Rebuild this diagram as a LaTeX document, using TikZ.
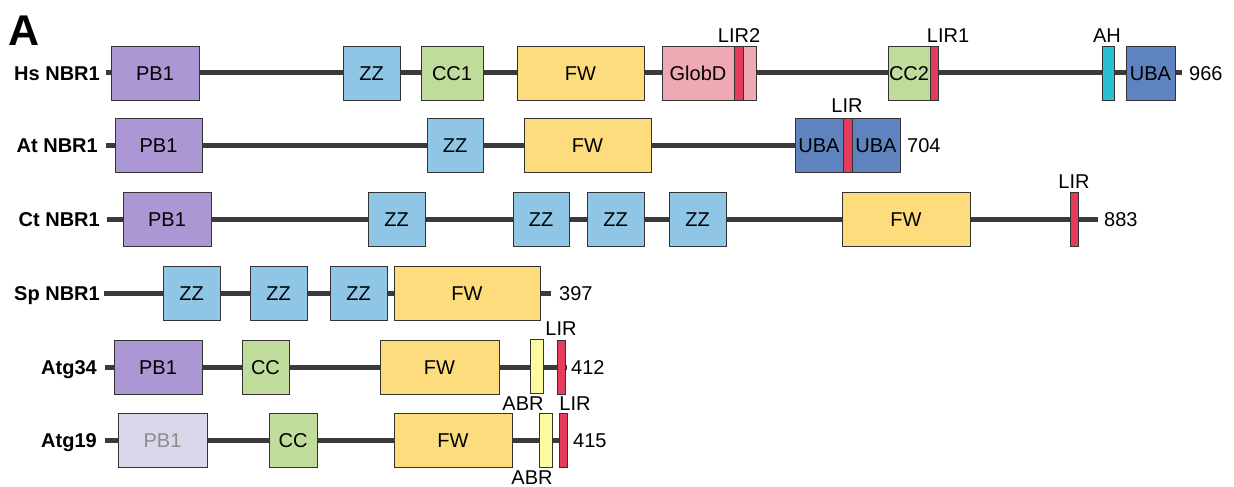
\documentclass[tikz,border=0pt]{standalone}
\usepackage{fontspec}
\setmainfont{Liberation Sans}
\usepackage{xcolor}
\usetikzlibrary{positioning}

\definecolor{pbcol}{HTML}{AB97D4}
\definecolor{pblight}{HTML}{DCD6EA}
\definecolor{zzcol}{HTML}{8FC5E5}
\definecolor{cccol}{HTML}{BFDC9B}
\definecolor{fwcol}{HTML}{FDDC7D}
\definecolor{globcol}{HTML}{EEA9B4}
\definecolor{lircol}{HTML}{E43C5C}
\definecolor{ahcol}{HTML}{2BBFD0}
\definecolor{ubacol}{HTML}{5F83BF}
\definecolor{abrcol}{HTML}{FDFBA0}
\definecolor{linecol}{HTML}{3A3A3A}
\definecolor{edgecol}{HTML}{333333}

\begin{document}
\begin{tikzpicture}[
    x=1pt, y=-1pt,
    font=\fontsize{20}{24}\selectfont,
    dom/.style={draw=edgecol, line width=0.9pt, inner sep=0pt, outer sep=0pt,
        minimum height=54, text height=14.3pt, text depth=0pt},
    bb/.style={draw=linecol, line width=5pt},
    prot/.style={anchor=east, inner sep=0pt, font=\fontsize{20}{24}\selectfont\bfseries,
        text height=14.3pt, text depth=0pt},
    len/.style={anchor=west, inner sep=0pt, text height=14.3pt, text depth=0pt},
    tag/.style={inner sep=0pt, text height=14.3pt, text depth=0pt},
]
    \useasboundingbox (0,0) rectangle (1234,487);
    \node[anchor=base west, inner sep=0pt, font=\fontsize{43}{46}\selectfont\bfseries] (panel) at (8,46) {A};

    % Hs NBR1
    \node[prot] (hsName) at (100,73) {Hs NBR1};
    \coordinate (hsS) at (106,73);
    \coordinate (hsE) at (1182,73);
    \draw[bb] (hsS) -- (hsE);
    \node[dom, fill=pbcol, minimum width=88] (hsPB) at (155,73) {PB1};
    \node[dom, fill=zzcol, minimum width=57] (hsZZ) at (371.5,73) {ZZ};
    \node[dom, fill=cccol, minimum width=62] (hsCC) at (452,73) {CC1};
    \node[dom, fill=fwcol, minimum width=127] (hsFW) at (580.5,73) {FW};
    \node[dom, fill=globcol, minimum width=72] (hsGlob) at (698,73) {GlobD};
    \node[dom, fill=lircol, minimum width=9] (hsLIRb) at (738.5,73) {};
    \node[dom, fill=globcol, minimum width=13] (hsGlobEnd) at (749.5,73) {};
    \node[dom, fill=cccol, minimum width=42] (hsCCb) at (909,73) {CC2};
    \node[dom, fill=lircol, minimum width=8] (hsLIRa) at (934,73) {};
    \node[dom, fill=ahcol, minimum width=12] (hsAH) at (1108,73) {};
    \node[dom, fill=ubacol, minimum width=49] (hsUBA) at (1150.5,73) {UBA};
    \node[len] (hsLen) at (1189,73) {966};
    \node[tag] (hsLIRbL) at (739,35) {LIR2};
    \node[tag] (hsLIRaL) at (948,35) {LIR1};
    \node[tag] (hsAHL) at (1107,35) {AH};

    % At NBR1
    \node[prot] (atName) at (98,145) {At NBR1};
    \coordinate (atS) at (106,145);
    \coordinate (atE) at (880,145);
    \draw[bb] (atS) -- (atE);
    \node[dom, fill=pbcol, minimum width=87] (atPB) at (158.5,145) {PB1};
    \node[dom, fill=zzcol, minimum width=56] (atZZ) at (455,145) {ZZ};
    \node[dom, fill=fwcol, minimum width=127] (atFW) at (587.5,145) {FW};
    \node[dom, fill=ubacol, minimum width=48] (atUBAa) at (819,145) {UBA};
    \node[dom, fill=lircol, minimum width=9] (atLIR) at (847.5,145) {};
    \node[dom, fill=ubacol, minimum width=48] (atUBAb) at (876,145) {UBA};
    \node[len] (atLen) at (907,145) {704};
    \node[tag] (atLIRL) at (847,105) {LIR};

    % Ct NBR1
    \node[prot] (ctName) at (100,219) {Ct NBR1};
    \coordinate (ctS) at (107,219);
    \coordinate (ctE) at (1098,219);
    \draw[bb] (ctS) -- (ctE);
    \node[dom, fill=pbcol, minimum width=88] (ctPB) at (167,219) {PB1};
    \node[dom, fill=zzcol, minimum width=57] (ctZZa) at (396.5,219) {ZZ};
    \node[dom, fill=zzcol, minimum width=56] (ctZZb) at (541,219) {ZZ};
    \node[dom, fill=zzcol, minimum width=57] (ctZZc) at (615.5,219) {ZZ};
    \node[dom, fill=zzcol, minimum width=57] (ctZZd) at (697.5,219) {ZZ};
    \node[dom, fill=fwcol, minimum width=128] (ctFW) at (906,219) {FW};
    \node[dom, fill=lircol, minimum width=8] (ctLIR) at (1074,219) {};
    \node[len] (ctLen) at (1104,219) {883};
    \node[tag] (ctLIRL) at (1074,181) {LIR};

    % Sp NBR1
    \node[prot] (spName) at (100,293) {Sp NBR1};
    \coordinate (spS) at (104,293);
    \coordinate (spE) at (551,293);
    \draw[bb] (spS) -- (spE);
    \node[dom, fill=zzcol, minimum width=57] (spZZa) at (191.5,293) {ZZ};
    \node[dom, fill=zzcol, minimum width=57] (spZZb) at (278.5,293) {ZZ};
    \node[dom, fill=zzcol, minimum width=57] (spZZc) at (358.5,293) {ZZ};
    \node[dom, fill=fwcol, minimum width=146] (spFW) at (467,293) {FW};
    \node[len] (spLen) at (559,293) {397};

    % Atg34
    \node[prot] (aName) at (97,367) {Atg34};
    \coordinate (aS) at (105,367);
    \coordinate (aE) at (567,367);
    \draw[bb] (aS) -- (aE);
    \node[dom, fill=pbcol, minimum width=88] (aPB) at (158,367) {PB1};
    \node[dom, fill=cccol, minimum width=47] (aCC) at (265.5,367) {CC};
    \node[dom, fill=fwcol, minimum width=119] (aFW) at (439.5,367) {FW};
    \node[dom, fill=abrcol, minimum width=13] (aABR) at (536.5,366) {};
    \node[dom, fill=lircol, minimum width=8] (aLIR) at (561,367) {};
    \node[len] (aLen) at (571,367) {412};
    \node[tag] (aLIRL) at (561,328) {LIR};
    \node[tag] (aABRL) at (523,403) {ABR};

    % Atg19
    \node[prot] (bName) at (97,440) {Atg19};
    \coordinate (bS) at (105,440);
    \coordinate (bE) at (568,440);
    \draw[bb] (bS) -- (bE);
    \node[dom, fill=pblight, text=black!45, minimum width=89] (bPB) at (162.5,440) {PB1};
    \node[dom, fill=cccol, minimum width=48] (bCC) at (293,440) {CC};
    \node[dom, fill=fwcol, minimum width=118] (bFW) at (453,440) {FW};
    \node[dom, fill=abrcol, minimum width=13] (bABR) at (545.5,440) {};
    \node[dom, fill=lircol, minimum width=8] (bLIR) at (563,440) {};
    \node[len] (bLen) at (573,440) {415};
    \node[tag] (bLIRL) at (575,403) {LIR};
    \node[tag] (bABRL) at (532,477) {ABR};
\end{tikzpicture}
\end{document}
